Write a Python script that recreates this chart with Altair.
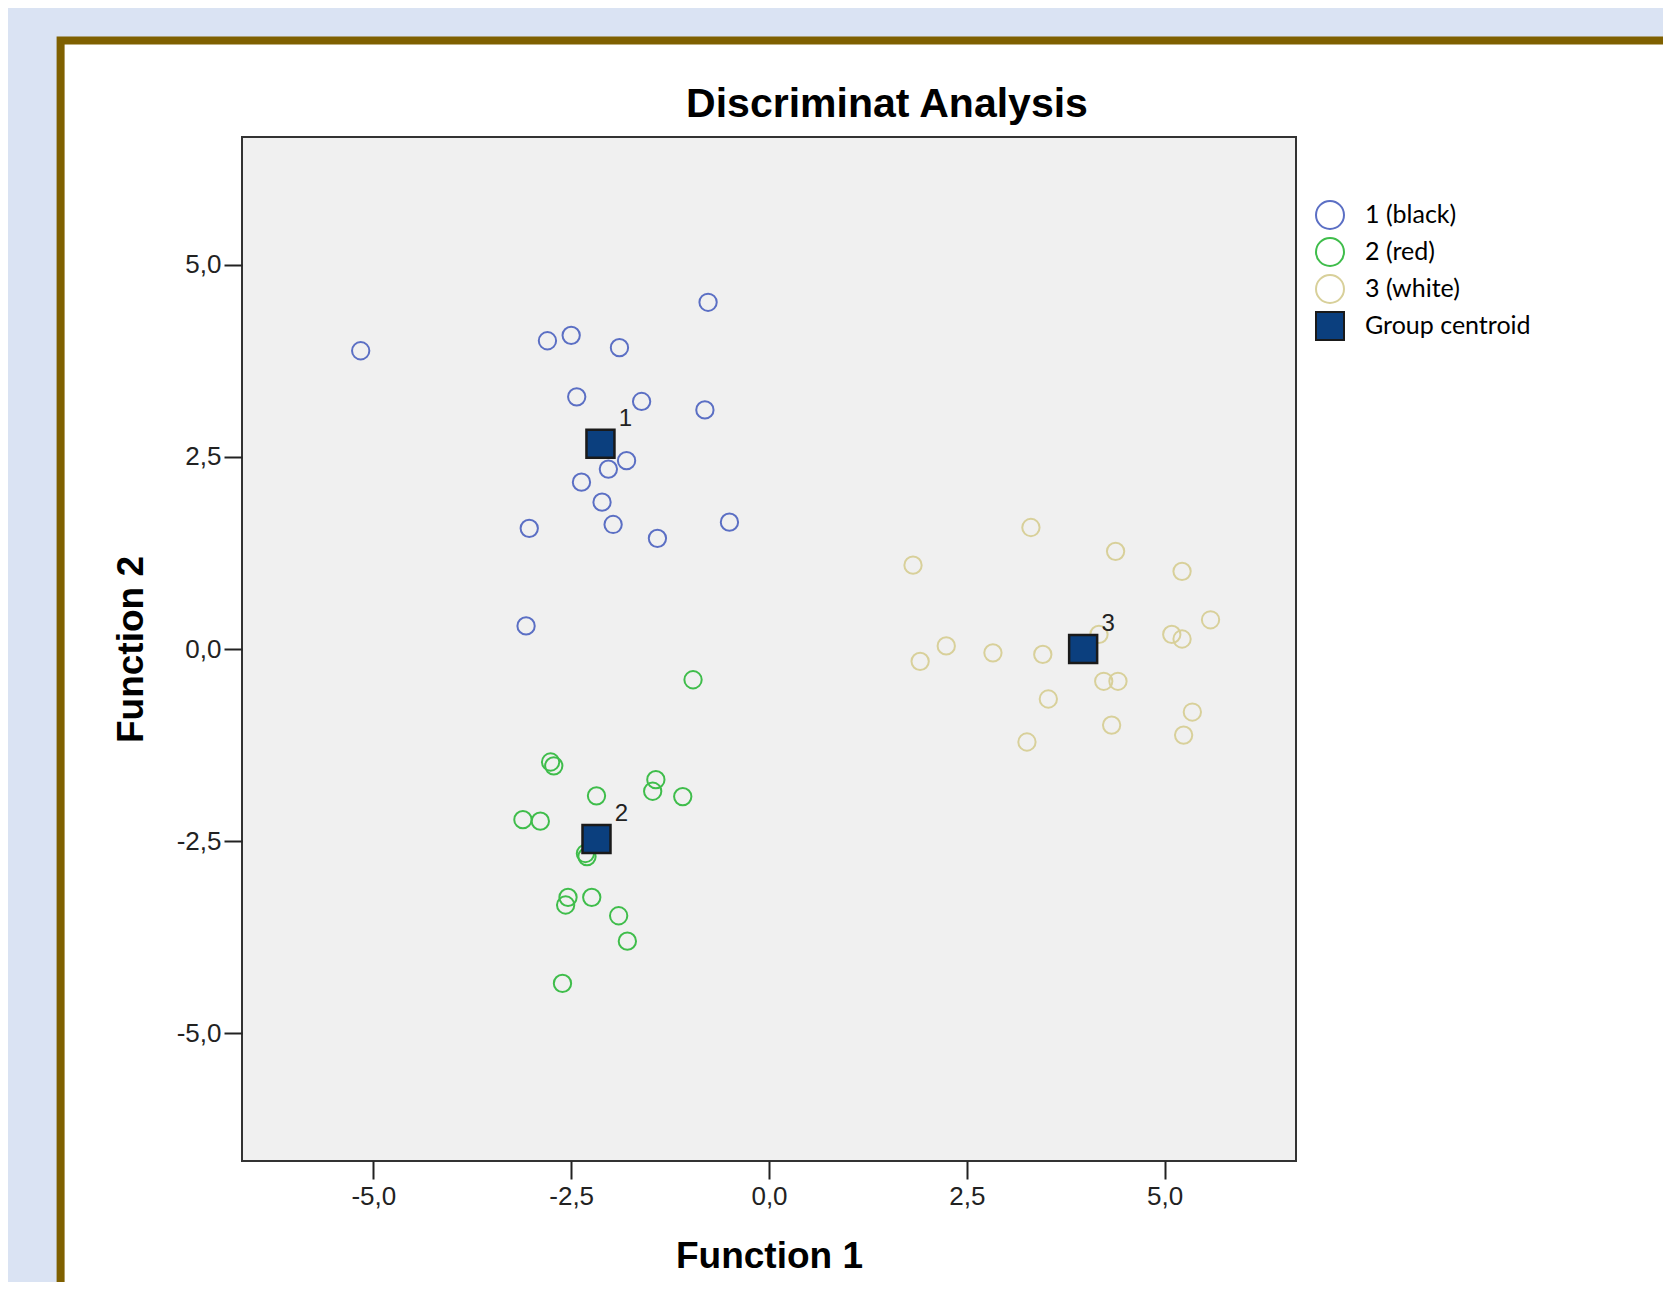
import altair as alt
import pandas as pd

# ---------------- data ----------------
title_text = "Discriminat Analysis"
x_title = "Function 1"
y_title = "Function 2"
group_names = ["1 (black)", "2 (red)", "3 (white)", "Group centroid"]
group_colors = ["#5b6fc4", "#3fbd4b", "#d8d09a", "#1a1a1a"]
group_fills = ["transparent", "transparent", "transparent", "#0b3f7e"]
group_shapes = ["circle", "circle", "circle", "square"]
tick_values = [-5.0, -2.5, 0.0, 2.5, 5.0]

g1_x = [-5.16, -0.77, -2.80, -2.50, -1.89, -2.43, -1.61, -0.81, -1.80, -2.03,
        -2.37, -2.11, -1.97, -3.03, -1.41, -0.50, -3.07]
g1_y = [3.88, 4.51, 4.01, 4.08, 3.92, 3.28, 3.22, 3.11, 2.45, 2.34,
        2.17, 1.91, 1.62, 1.57, 1.44, 1.65, 0.30]

g2_x = [-0.96, -2.76, -2.72, -1.43, -1.47, -1.09, -2.18, -3.11, -2.89, -2.32,
        -2.30, -2.54, -2.57, -2.24, -1.90, -1.79, -2.61]
g2_y = [-0.40, -1.47, -1.52, -1.70, -1.85, -1.92, -1.91, -2.22, -2.24, -2.66,
        -2.70, -3.23, -3.33, -3.23, -3.47, -3.80, -4.35]

g3_x = [3.31, 1.82, 4.38, 5.22, 5.58, 5.09, 5.22, 4.17, 2.24, 1.91,
        2.83, 3.46, 4.23, 4.41, 3.53, 5.35, 4.33, 5.24, 3.26]
g3_y = [1.58, 1.09, 1.27, 1.01, 0.38, 0.19, 0.13, 0.19, 0.04, -0.16,
        -0.05, -0.07, -0.42, -0.42, -0.65, -0.82, -0.99, -1.12, -1.21]

centroid_x = [-2.13, -2.18, 3.97]
centroid_y = [2.67, -2.47, 0.00]
centroid_labels = ["1", "2", "3"]

# ---------------- tables ----------------
points = pd.DataFrame({
    "f1": g1_x + g2_x + g3_x,
    "f2": g1_y + g2_y + g3_y,
    "group": [group_names[0]] * len(g1_x) + [group_names[1]] * len(g2_x) + [group_names[2]] * len(g3_x),
})
centroids = pd.DataFrame({
    "f1": centroid_x,
    "f2": centroid_y,
    "group": [group_names[3]] * 3,
    "lab": centroid_labels,
})

W, H = 1054, 1024
DOM = [-6.66, 6.66]
label_expr = "replace(replace(format(datum.value, '.1f'), '.', ','), '\u2212', '-')"

xscale = alt.Scale(domain=DOM, nice=False, zero=False)
yscale = alt.Scale(domain=DOM, nice=False, zero=False)

leg = alt.Legend(orient="none", legendX=1073, legendY=63, title=None,
                 symbolSize=784, symbolStrokeWidth=2, labelFont="Lato",
                 labelFontSize=25, labelColor="#000000", labelOffset=20,
                 rowPadding=1, padding=0, labelLimit=400)

color_enc = dict(
    stroke=alt.Stroke("group:N", scale=alt.Scale(domain=group_names, range=group_colors), legend=leg),
    fill=alt.Fill("group:N", scale=alt.Scale(domain=group_names, range=group_fills), legend=leg),
    shape=alt.Shape("group:N", scale=alt.Scale(domain=group_names, range=group_shapes), legend=leg),
)

one = pd.DataFrame({"t": [title_text]})

frame = alt.Chart(one).mark_rect(fill="white", stroke="#7f6000", strokeWidth=8).encode(
    x=alt.value(-181.4), x2=alt.value(3000), y=alt.value(-96.5), y2=alt.value(3000))

panel = alt.Chart(one).mark_rect(fill="#f0f0f0", stroke="#333333", strokeWidth=2).encode(
    x=alt.value(0), x2=alt.value(W), y=alt.value(0), y2=alt.value(H))

pts = alt.Chart(points).mark_point(size=300, strokeWidth=2, opacity=1, filled=False).encode(
    x=alt.X("f1:Q", scale=xscale,
            axis=alt.Axis(title=x_title, values=tick_values, labelExpr=label_expr, zindex=2,
                          titleY=106, titleBaseline="alphabetic", labelPadding=4)),
    y=alt.Y("f2:Q", scale=yscale,
            axis=alt.Axis(title=y_title, values=tick_values, labelExpr=label_expr, zindex=2,
                          titleX=-100, titleY=512, titleBaseline="alphabetic", labelPadding=3)),
    **color_enc,
)

cents = alt.Chart(centroids).mark_point(size=784, strokeWidth=2.5, opacity=1, filled=False).encode(
    x="f1:Q", y="f2:Q", **color_enc)

labs = alt.Chart(centroids).mark_text(font="Liberation Sans", fontSize=24, color="#222222",
                                      dx=25, dy=-25, align="center", baseline="middle").encode(
    x="f1:Q", y="f2:Q", text="lab:N")

ttl = alt.Chart(one).mark_text(font="Liberation Sans", fontSize=41, fontWeight="bold",
                               color="#000000", align="center", baseline="alphabetic").encode(
    x=alt.value(645), y=alt.value(-20), text="t:N")

chart = alt.layer(frame, panel, pts, cents, labs, ttl).properties(
    width=W, height=H,
    padding={"left": 234, "top": 129, "right": 367, "bottom": 121},
    autosize=alt.AutoSizeParams(type="none"),
    background="#dae3f3",
).configure_view(strokeWidth=0).configure_axis(
    domain=False, grid=False,
    labelFont="Liberation Sans", labelFontSize=26, labelColor="#222222",
    tickColor="#222222", tickSize=18, tickWidth=2,
    titleFont="Liberation Sans", titleFontSize=37, titleFontWeight="bold", titleColor="#000000",
)

chart.save("out.html", embed_options={"renderer": "svg", "actions": False})
